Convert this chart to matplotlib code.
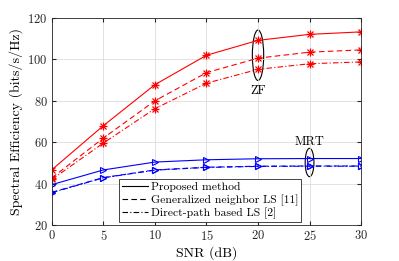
import matplotlib
matplotlib.use("Agg")
import matplotlib.pyplot as plt
from matplotlib.patches import Ellipse
from matplotlib.lines import Line2D

snr = [0, 5, 10, 15, 20, 25, 30]

# ZF
zf_prop = [46.7, 68.0, 87.8, 102.0, 109.2, 112.1, 113.3]
zf_gen = [42.8, 62.0, 80.0, 93.6, 100.6, 103.5, 104.6]
zf_dir = [42.0, 59.6, 76.2, 88.5, 95.2, 97.9, 98.8]

# MRT
mrt_prop = [39.5, 46.6, 50.4, 51.5, 52.0, 52.1, 52.1]
mrt_gen = [35.8, 42.9, 46.6, 47.9, 48.4, 48.5, 48.5]
mrt_dir = [35.6, 42.8, 46.5, 47.8, 48.3, 48.4, 48.4]

plt.rcParams['font.family'] = 'cmr10'
plt.rcParams['axes.formatter.use_mathtext'] = True

fig = plt.figure(figsize=(3.99, 2.61), dpi=100)
ax = fig.add_axes([0.130, 0.138, 0.775, 0.793])

red = '#ff0000'
blue = '#0000ff'
dash = (0, (5, 3))
dashdot = (0, (5, 2, 1, 2))
for y, ls in [(zf_prop, '-'), (zf_gen, dash), (zf_dir, dashdot)]:
    ax.plot(snr, y, color=red, ls=ls, lw=0.8)
    # matlab style asterisk
    ax.plot(snr, y, ls='none', marker='+', ms=6, mec=red, mew=0.9)
    ax.plot(snr, y, ls='none', marker='x', ms=4.5, mec=red, mew=0.9)
for y, ls in [(mrt_prop, '-'), (mrt_gen, dash), (mrt_dir, dashdot)]:
    ax.plot(snr, y, color=blue, ls=ls, lw=0.8, marker='>', ms=5, mec=blue, mfc='none', mew=0.8)

ax.add_patch(Ellipse((20, 102), 1.1, 24.4, fill=False, ec='k', lw=0.8))
ax.text(20, 85, 'ZF', ha='center', va='center', fontsize=9)
ax.add_patch(Ellipse((25, 50.2), 0.85, 13.7, fill=False, ec='k', lw=0.8))
ax.text(25, 60.3, 'MRT', ha='center', va='center', fontsize=9)

ax.set_xlim(0, 30)
ax.set_ylim(20, 120)
ax.set_xticks(snr)
ax.set_yticks([20, 40, 60, 80, 100, 120])
ax.grid(True, color='#dddddd', lw=0.6)
ax.tick_params(direction='in', top=True, right=True, labelsize=9, length=3,
               colors='#262626', pad=3)
for s in ax.spines.values():
    s.set_color('#262626')
    s.set_linewidth(0.6)
ax.set_xlabel('SNR (dB)', fontsize=10, labelpad=2)
ax.set_ylabel('Spectral Efficiency (bits/s/Hz)', fontsize=10, labelpad=3)

handles = [Line2D([], [], color='k', lw=0.8, ls='-'),
           Line2D([], [], color='k', lw=0.8, ls=dash),
           Line2D([], [], color='k', lw=0.8, ls=dashdot)]
labels = ['Proposed method', 'Generalized neighbor LS [11]', 'Direct-path based LS [2]']
leg = ax.legend(handles, labels, loc='lower left', bbox_to_anchor=(0.218, 0.016),
                fontsize=8.4, fancybox=False, edgecolor='#262626', framealpha=1,
                handlelength=2.2, borderpad=0.25, labelspacing=0.15, handletextpad=0.25,
                borderaxespad=0)
leg.get_frame().set_linewidth(0.6)

fig.savefig('out.png', dpi=100)
